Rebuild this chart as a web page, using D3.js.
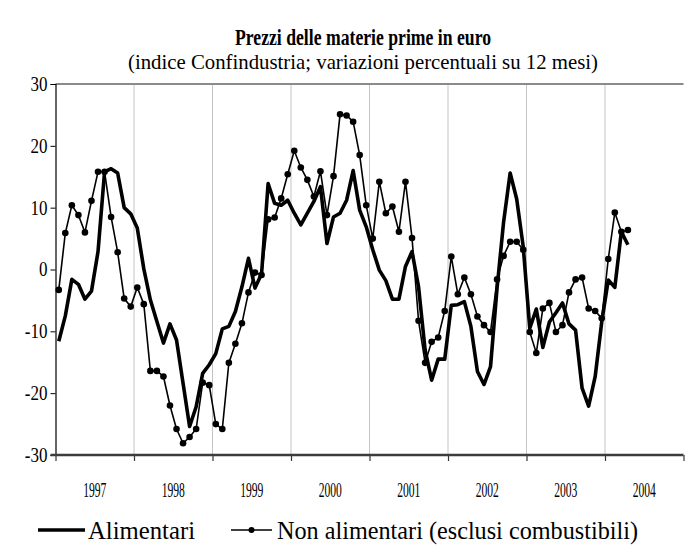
<!DOCTYPE html>
<html><head><meta charset="utf-8">
<script src="https://cdn.jsdelivr.net/npm/d3@7"></script>
<style>body{margin:0;background:#fff}svg{display:block}text{font-family:"Liberation Serif","Times New Roman",serif;fill:#000}</style>
</head><body>
<svg id="c" width="685" height="555"></svg>
<script>
const years = ["1997","1998","1999","2000","2001","2002","2003","2004"];
const yTicks = [-30,-20,-10,0,10,20,30];
const alimentari = [
 -11.6,-7.5,-1.6,-2.4,-4.8,-3.5,2.9,15.8,16.3,15.6,10.0,9.0,
 6.7,0.1,-4.9,-8.4,-11.9,-8.8,-11.4,-18.4,-25.4,-22.2,-16.8,-15.4,
 -13.6,-9.6,-9.2,-6.8,-2.8,1.8,-3.0,-0.7,13.9,10.7,10.4,11.2,
 9.1,7.2,9.1,11.0,13.4,4.2,8.5,9.1,11.2,16.0,9.6,6.9,
 3.2,-0.1,-1.8,-4.8,-4.8,0.5,2.9,-2.8,-13.0,-17.9,-14.5,-14.5,
 -5.8,-5.7,-5.2,-9.2,-16.5,-18.6,-15.7,-3.0,7.7,15.6,11.4,3.7,
 -9.5,-6.4,-12.6,-8.5,-7.0,-5.4,-8.8,-9.8,-19.2,-22.1,-17.3,-8.5,
 -1.7,-2.9,6.1,4.0
];
const nonAlimentari = [
 -3.3,5.9,10.4,8.8,6.0,11.1,15.8,15.8,8.5,2.8,-4.7,-6.0,
 -2.9,-5.6,-16.4,-16.4,-17.3,-22.0,-25.8,-28.1,-27.1,-25.8,-18.3,-18.7,
 -25.0,-25.8,-15.1,-12.0,-8.7,-3.7,-0.5,-0.9,8.1,8.4,11.5,15.4,
 19.2,16.5,14.5,11.8,15.9,8.8,15.1,25.1,24.9,23.9,18.5,10.4,
 5.0,14.2,9.1,10.2,6.1,14.2,5.1,-8.3,-15.1,-11.7,-11.0,-6.7,
 2.1,-4.0,-1.3,-4.0,-7.6,-9.0,-10.1,-1.6,2.2,4.5,4.5,3.2,
 -10.1,-13.5,-6.3,-5.4,-10.1,-9.0,-3.7,-1.6,-1.3,-6.3,-6.7,-7.9,
 1.7,9.2,6.1,6.4
];
const title = "Prezzi delle materie prime in euro";
const subtitle = "(indice Confindustria; variazioni percentuali su 12 mesi)";
const legendLabels = ["Alimentari","Non alimentari (esclusi combustibili)"];

const svg = d3.select("#c");
const L = 55.5, R = 683.5, T = 84, B = 455;
const x = d3.scaleLinear().domain([0, years.length*12]).range([L, R]);
const xb = d3.scaleBand().domain(years).range([L, R]);
const y = d3.scaleLinear().domain([-30, 30]).range([B, T]);

function fit(sel, w){ sel.attr("textLength", w).attr("lengthAdjust","spacingAndGlyphs"); }
function squeeze(sel, f){ sel.each(function(){ const n=this.getComputedTextLength(); d3.select(this).attr("textLength", n*f).attr("lengthAdjust","spacingAndGlyphs"); }); }

// title
svg.append("text").attr("x",363).attr("y",45).attr("text-anchor","middle")
  .attr("font-size",23).attr("font-weight","bold").text(title).call(fit,256);
svg.append("text").attr("x",363).attr("y",69).attr("text-anchor","middle")
  .attr("font-size",22).text(subtitle).call(fit,470);

// vertical gridlines
svg.append("g").selectAll("line").data(years.slice(1)).join("line")
  .attr("x1", d=>xb(d)).attr("x2", d=>xb(d)).attr("y1",T).attr("y2",B)
  .attr("stroke","#c4c4c4").attr("stroke-width",1);
// top border
svg.append("line").attr("x1",L).attr("x2",R).attr("y1",T).attr("y2",T)
  .attr("stroke","#8a8a8a").attr("stroke-width",2);

// y axis
const ya = svg.append("g").attr("transform",`translate(${L},0)`)
  .call(d3.axisLeft(y).tickValues(yTicks).tickSize(5).tickFormat(d=>String(d)));
ya.select(".domain").attr("stroke","#000").attr("stroke-width",1.2);
ya.selectAll(".tick line").attr("stroke","#000");
ya.selectAll(".tick text").attr("font-size",20).attr("font-family","Liberation Serif").attr("x",-8).attr("fill","#000").call(squeeze,0.85);

// x axis
const xa = svg.append("g").attr("transform",`translate(0,${B})`)
  .call(d3.axisBottom(x).tickValues(d3.range(0, years.length*12+1, 12)).tickSize(6).tickFormat(""));
xa.select(".domain").remove();
xa.selectAll(".tick line").attr("stroke","#333").attr("stroke-width",1.2);
svg.append("line").attr("x1",L-5).attr("x2",R).attr("y1",B).attr("y2",B)
  .attr("stroke","#3c3c3c").attr("stroke-width",2.5);
svg.append("g").selectAll("text").data(years).join("text")
  .attr("x", d=>xb(d)+xb.bandwidth()/2).attr("y",497).attr("text-anchor","middle")
  .attr("font-size",20).text(d=>d).call(squeeze,0.58);

// lines
const line = d3.line().x((d,i)=>x(i+0.5)).y(d=>y(d));
svg.append("path").datum(nonAlimentari).attr("d",line).attr("fill","none")
  .attr("stroke","#000").attr("stroke-width",1.6);
svg.append("g").selectAll("circle").data(nonAlimentari).join("circle")
  .attr("cx",(d,i)=>x(i+0.5)).attr("cy",d=>y(d)).attr("r",3.3).attr("fill","#000");
svg.append("path").datum(alimentari).attr("d",line).attr("fill","none")
  .attr("stroke","#000").attr("stroke-width",3.6).attr("stroke-linejoin","round");

// legend
const ly = 530;
svg.append("line").attr("x1",38).attr("x2",85).attr("y1",ly).attr("y2",ly).attr("stroke","#000").attr("stroke-width",3.6);
svg.append("text").attr("x",88).attr("y",ly+9).attr("font-size",26).text(legendLabels[0]).call(fit,107);
svg.append("line").attr("x1",231).attr("x2",272).attr("y1",ly).attr("y2",ly).attr("stroke","#000").attr("stroke-width",1.6);
svg.append("circle").attr("cx",251.5).attr("cy",ly).attr("r",3).attr("fill","#000");
svg.append("text").attr("x",277).attr("y",ly+9).attr("font-size",26).text(legendLabels[1]).call(fit,361);
</script>
</body></html>
